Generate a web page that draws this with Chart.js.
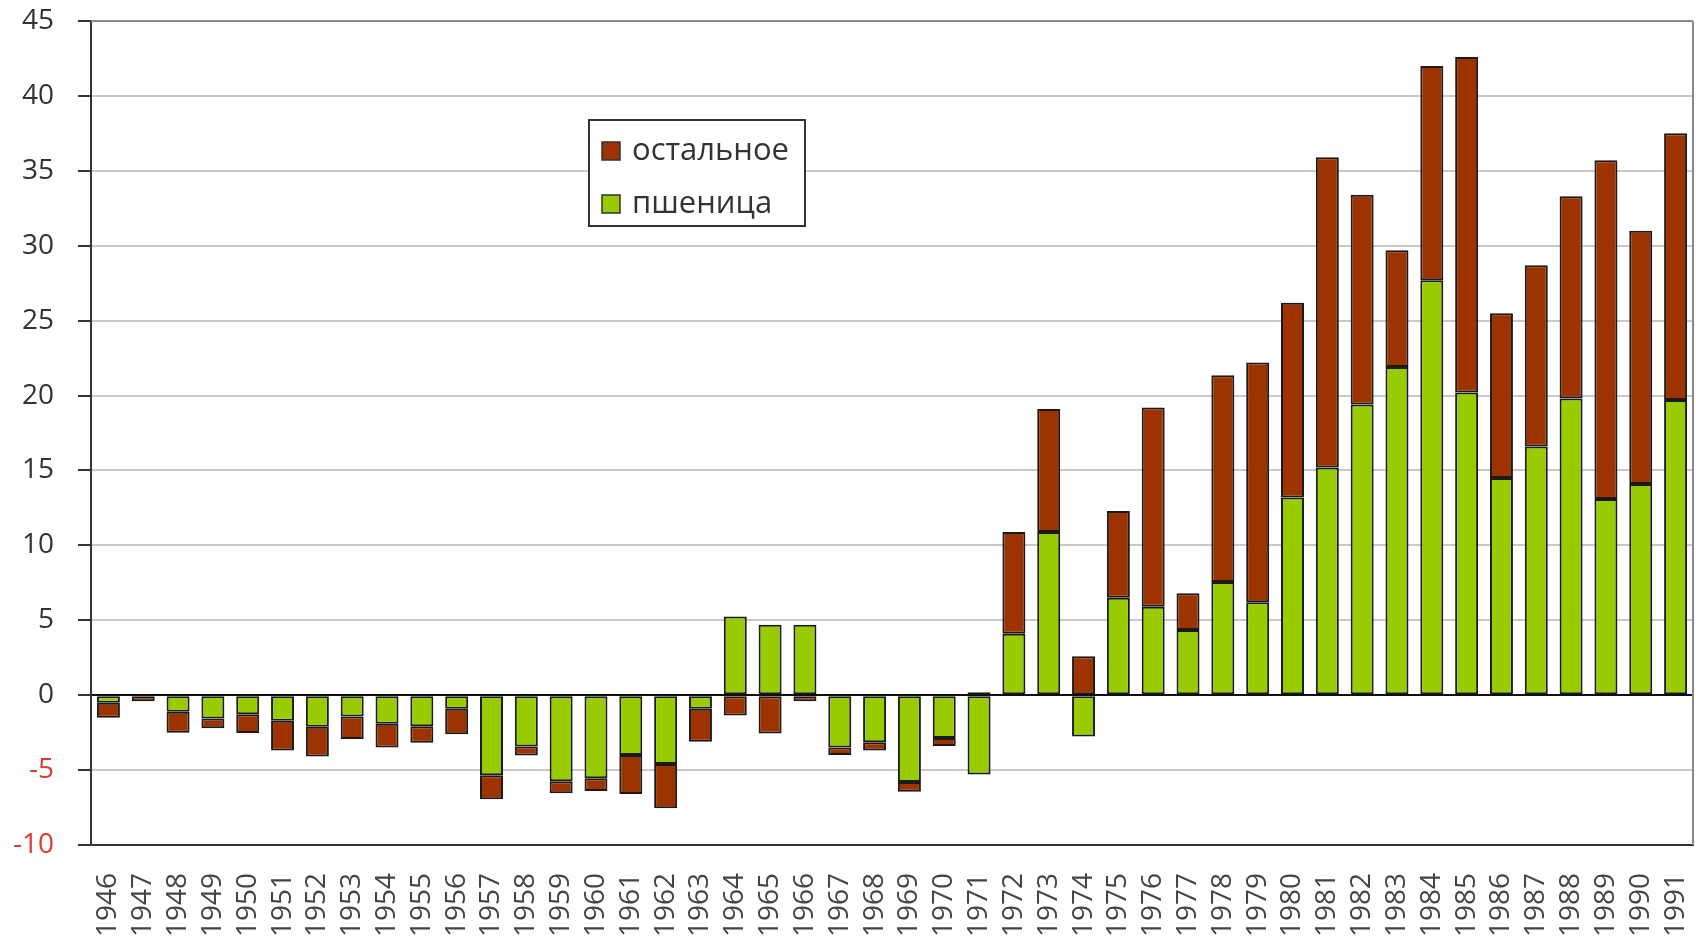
<!DOCTYPE html>
<html><head><meta charset="utf-8">
<script src="https://cdn.jsdelivr.net/npm/chart.js@4.4.0/dist/chart.umd.min.js"></script>
<style>html,body{margin:0;padding:0;background:#fff;overflow:hidden}#wrap{width:1696px;height:946px;position:relative}canvas{display:block}</style>
</head><body><div id="wrap"><canvas id="c" width="1696" height="946" style="width:1696px;height:946px"></canvas></div>
<script>
const years = ['1946','1947','1948','1949','1950','1951','1952','1953','1954','1955','1956','1957','1958','1959','1960','1961','1962','1963','1964','1965','1966','1967','1968','1969','1970','1971','1972','1973','1974','1975','1976','1977','1978','1979','1980','1981','1982','1983','1984','1985','1986','1987','1988','1989','1990','1991'];
const wheat = [-0.5,0,-1.1,-1.55,-1.27,-1.7,-2.1,-1.43,-1.9,-2.07,-0.9,-5.35,-3.43,-5.75,-5.55,-4.0,-4.6,-0.9,5.25,4.7,4.7,-3.5,-3.15,-5.8,-2.85,-5.3,4.1,10.9,-2.75,6.5,5.9,4.35,7.55,6.2,13.2,15.2,19.4,21.9,27.7,20.2,14.5,16.6,19.8,13.1,14.1,19.7];
const rest = [-1.0,-0.4,-1.4,-0.65,-1.25,-2.0,-2.0,-1.5,-1.6,-1.1,-1.7,-1.6,-0.6,-0.8,-0.85,-2.6,-2.95,-2.2,-1.35,-2.55,-0.4,-0.5,-0.55,-0.65,-0.55,0.2,6.8,8.2,2.6,5.8,13.3,2.45,13.8,16.0,13.0,20.7,14.0,7.8,14.3,22.4,11.0,12.1,13.5,22.6,16.9,17.8];
const seriesNames = ['пшеница','остальное'];
const yMin = -10, yMax = 45, yStep = 5;

const FONT = '"Open Sans", "DejaVu Sans", sans-serif';

const legendPlugin = {
  id: 'boxLegend',
  afterDraw(chart) {
    const ctx = chart.ctx;
    const x = 589, y = 120, w = 216, h = 106;
    ctx.save();
    ctx.fillStyle = '#fff';
    ctx.fillRect(x, y, w, h);
    ctx.strokeStyle = '#333';
    ctx.lineWidth = 2;
    ctx.strokeRect(x, y, w, h);
    const items = chart.data.datasets.slice().reverse();
    items.forEach((ds, i) => {
      const cy = y + 31 + i * 53;
      ctx.fillStyle = ds.backgroundColor;
      ctx.fillRect(602, cy - 9, 18, 18);
      ctx.strokeStyle = '#333';
      ctx.lineWidth = 1.5;
      ctx.strokeRect(602, cy - 9, 18, 18);
      ctx.fillStyle = '#333';
      ctx.font = '31px ' + FONT;
      ctx.textBaseline = 'middle';
      ctx.textAlign = 'left';
      ctx.fillText(ds.label, 632, cy);
    });
    ctx.restore();
  }
};

const borderPlugin = {
  id: 'rightBorder',
  afterDraw(chart) {
    const a = chart.chartArea, ctx = chart.ctx;
    ctx.save();
    ctx.strokeStyle = '#8a8a8a';
    ctx.lineWidth = 2;
    ctx.beginPath();
    ctx.moveTo(a.right, a.top);
    ctx.lineTo(a.right, a.bottom);
    ctx.moveTo(a.left, a.top);
    ctx.lineTo(a.right, a.top);
    ctx.stroke();
    ctx.restore();
  }
};

new Chart(document.getElementById('c'), {
  type: 'bar',
  data: {
    labels: years,
    datasets: [
      { label: seriesNames[0], data: wheat, backgroundColor: '#99cc00', borderColor: '#1a1a1a', borderWidth: 2, borderSkipped: false },
      { label: seriesNames[1], data: rest, backgroundColor: '#9c3300', borderColor: '#1a1a1a', borderWidth: 2, borderSkipped: false }
    ]
  },
  options: {
    responsive: false,
    maintainAspectRatio: false,
    animation: false,
    devicePixelRatio: 1,
    layout: { padding: { top: 21, right: 3, left: 0, bottom: 0 } },
    plugins: { legend: { display: false }, tooltip: { enabled: false } },
    datasets: { bar: { categoryPercentage: 1.0, barPercentage: 0.66 } },
    scales: {
      x: {
        stacked: true,
        grid: { display: false, drawTicks: false },
        border: { display: true, color: '#333', width: 2 },
        ticks: { minRotation: 90, maxRotation: 90, autoSkip: false, padding: 28, color: '#444', font: { family: FONT, size: 28 } },
        afterFit(s) { s.height = 101; s.paddingLeft = 0; s.paddingRight = 0; }
      },
      y: {
        stacked: true,
        min: yMin, max: yMax,
        ticks: { stepSize: yStep, padding: 24,
          color: c => c.tick.value < 0 ? '#e23a2e' : '#333',
          font: { family: FONT, size: 28 } },
        grid: {
          color: c => c.tick.value === 0 ? '#111' : '#c9c9c9',
          lineWidth: 2,
          tickLength: 13,
          tickColor: '#333'
        },
        border: { display: true, color: '#333', width: 2 },
        afterFit(s) { s.width = 91; s.paddingTop = 0; s.paddingBottom = 0; }
      }
    }
  },
  plugins: [borderPlugin, legendPlugin]
});
</script>
</body></html>
